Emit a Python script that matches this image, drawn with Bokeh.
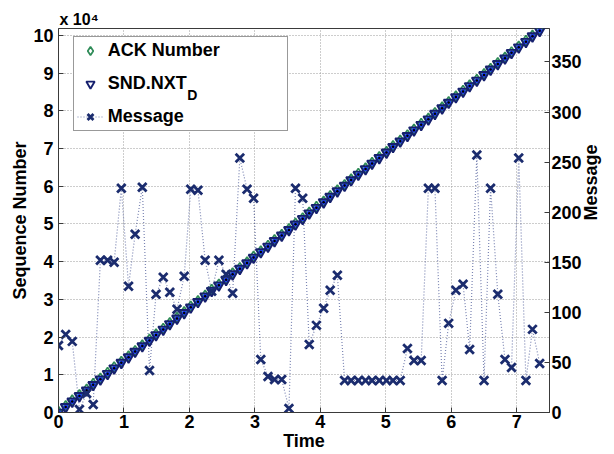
import math
from bokeh.plotting import figure
from bokeh.models import Range1d, LinearAxis, FixedTicker, Legend, LegendItem
from bokeh.embed import file_html
from bokeh.resources import INLINE

# ---- data ----
time = [0.0, 0.11, 0.21, 0.32, 0.43, 0.53, 0.64, 0.75, 0.85, 0.96,
        1.07, 1.17, 1.28, 1.39, 1.49, 1.6, 1.7, 1.81, 1.92, 2.02,
        2.13, 2.24, 2.34, 2.45, 2.56, 2.66, 2.77, 2.88, 2.98, 3.09,
        3.2, 3.3, 3.41, 3.52, 3.62, 3.73, 3.83, 3.94, 4.05, 4.15,
        4.26, 4.37, 4.47, 4.58, 4.69, 4.79, 4.9, 5.01, 5.11, 5.22,
        5.33, 5.43, 5.54, 5.65, 5.75, 5.86, 5.96, 6.07, 6.18, 6.28,
        6.39, 6.5, 6.6, 6.71, 6.82, 6.92, 7.03, 7.14, 7.24, 7.35]

ack_number = [300, 1800, 3300, 4700, 6200, 7700, 9100, 10600, 12100, 13500,
              15000, 16400, 17900, 19400, 20800, 22300, 23800, 25200, 26700, 28200,
              29600, 31100, 32600, 34000, 35500, 37000, 38400, 39900, 41400, 42800,
              44300, 45800, 47200, 48700, 50200, 51600, 53100, 54600, 56000, 57500,
              59000, 60400, 61900, 63400, 64800, 66300, 67800, 69200, 70700, 72200,
              73600, 75100, 76600, 78000, 79500, 81000, 82400, 83900, 85400, 86800,
              88300, 89800, 91200, 92700, 94200, 95600, 97100, 98600, 100000, 101500]

snd_nxt = [0, 1470, 2930, 4400, 5870, 7340, 8800, 10270, 11740, 13200,
           14670, 16140, 17600, 19070, 20540, 22010, 23470, 24940, 26410, 27870,
           29340, 30810, 32270, 33740, 35210, 36680, 38140, 39610, 41080, 42540,
           44010, 45480, 46940, 48410, 49880, 51350, 52810, 54280, 55750, 57210,
           58680, 60150, 61610, 63080, 64550, 66020, 67480, 68950, 70420, 71880,
           73350, 74820, 76280, 77750, 79220, 80690, 82150, 83620, 85090, 86550,
           88020, 89490, 90950, 92420, 93890, 95360, 96820, 98290, 99760, 101220]

message = [67, 78, 71, 3, 19, 8, 152, 152, 150, 224,
           126, 178, 225, 42, 118, 135, 120, 103, 136, 223,
           222, 152, 121, 152, 138, 119, 254, 223, 214, 53,
           36, 33, 33, 4, 224, 214, 68, 87, 104, 122,
           137, 32, 32, 32, 32, 32, 32, 32, 32, 32,
           64, 52, 52, 224, 224, 32, 89, 122, 128, 63,
           257, 32, 224, 118, 53, 45, 254, 32, 83, 49]

x_ticks = [0, 1, 2, 3, 4, 5, 6, 7]
seq_ticks = [0, 10000, 20000, 30000, 40000, 50000, 60000, 70000, 80000, 90000, 100000]
seq_tick_labels = ["0", "1", "2", "3", "4", "5", "6", "7", "8", "9", "10"]
msg_ticks = [0, 50, 100, 150, 200, 250, 300, 350]

FONT = "Liberation Sans"
AX = "#3a3a3a"

p = figure(width=614, height=454, output_backend="svg", toolbar_location=None,
           x_range=Range1d(0, 7.5), y_range=Range1d(0, 101800),
           min_border_left=58, min_border_right=65, min_border_top=28, min_border_bottom=42)
p.extra_y_ranges = {"msg": Range1d(0, 383.4)}
p.background_fill_color = "white"
p.border_fill_color = "white"
p.outline_line_color = AX
p.outline_line_width = 1

p.title.text = "x 10\u2074"
p.title.align = "left"
p.title.offset = 1
p.title.standoff = 2
p.title.vertical_align = "bottom"
p.title.text_font = FONT
p.title.text_font_style = "bold"
p.title.text_font_size = "16px"
p.title.text_color = "black"

def style_axis(ax):
    ax.axis_line_color = AX
    ax.major_tick_line_color = AX
    ax.major_tick_in = 5
    ax.major_tick_out = 0
    ax.minor_tick_line_color = None
    ax.major_label_text_font = FONT
    ax.major_label_text_font_style = "bold"
    ax.major_label_text_font_size = "18px"
    ax.major_label_text_color = "black"
    ax.axis_label_text_font = FONT
    ax.axis_label_text_font_style = "bold"
    ax.axis_label_text_font_size = "18px"
    ax.axis_label_text_color = "black"

xa = p.xaxis[0]
xa.ticker = FixedTicker(ticks=x_ticks)
style_axis(xa)
xa.major_label_standoff = 2
xa.axis_label = "Time"
xa.axis_label_standoff = 0

ya = p.yaxis[0]
ya.ticker = FixedTicker(ticks=seq_ticks)
ya.major_label_overrides = {t: s for t, s in zip(seq_ticks, seq_tick_labels)}
style_axis(ya)
ya.major_label_standoff = 5
ya.axis_label = "Sequence Number"
ya.axis_label_standoff = 0

ra = LinearAxis(y_range_name="msg", ticker=FixedTicker(ticks=msg_ticks))
style_axis(ra)
ra.major_label_standoff = 2
ra.axis_label = "Message"
ra.axis_label_standoff = 6
try:
    ra.axis_label_orientation = math.pi / 2
except Exception:
    pass
p.add_layout(ra, "right")

for g in (p.xgrid[0], p.ygrid[0]):
    g.grid_line_color = "#9a9a9a"
    g.grid_line_dash = "1 2"
    g.grid_line_width = 1
p.xgrid[0].ticker = FixedTicker(ticks=x_ticks)
p.ygrid[0].ticker = FixedTicker(ticks=seq_ticks)

# ---- glyphs ----
msg_line = p.line(time, message, y_range_name="msg", line_color="#34448a",
                  line_dash="1 2", line_width=1.2, line_alpha=0.65)
p.line(time, snd_nxt, line_color="#1030ff", line_width=2)
ack = p.scatter(time, ack_number, marker="diamond", size=10, line_color="#2e8b57",
                fill_color=None, line_width=1.7)
p.scatter(time, snd_nxt, marker="circle", size=5, fill_color="#1f3ff0", line_color=None)
snd = p.scatter(time, snd_nxt, marker="inverted_triangle", size=10, line_color="#16206e",
                fill_color=None, line_width=1.9)
p.scatter(time, snd_nxt, marker="circle", size=2.5, fill_color="black", line_color=None)
msg = p.scatter(time, message, y_range_name="msg", marker="x", size=12,
                line_color="#1b2c6e", line_width=2.8)
# empty, invisible renderer that only carries the subscript text of the legend
sub_holder = p.scatter(x=[], y=[], marker="circle", size=1, fill_alpha=0, line_alpha=0)

legend = Legend(items=[LegendItem(label="ACK Number", renderers=[ack]),
                       LegendItem(label="SND.NXT", renderers=[snd]),
                       LegendItem(label="Message", renderers=[msg_line, msg])],
                location=(14.7, 281))
legend.label_text_font = FONT
legend.label_text_font_style = "bold"
legend.label_text_font_size = "18px"
legend.label_text_color = "black"
legend.glyph_width = 26
legend.glyph_height = 21
legend.label_height = 21
legend.spacing = 12
legend.padding = 3
legend.margin = 0
legend.label_standoff = 5
legend.label_width = 176
legend.border_line_color = "#333333"
legend.border_line_width = 1
legend.background_fill_color = "white"
legend.background_fill_alpha = 1
p.add_layout(legend)

sub = Legend(items=[LegendItem(label="D", renderers=[sub_holder])],
             location=(128.3, 308.9))
sub.label_text_font = FONT
sub.label_text_font_style = "bold"
sub.label_text_font_size = "14px"
sub.label_text_color = "black"
sub.glyph_width = 1
sub.glyph_height = 14
sub.label_height = 14
sub.label_width = 10
sub.label_standoff = 0
sub.padding = 0
sub.spacing = 0
sub.margin = 0
sub.border_line_color = None
sub.background_fill_alpha = 0
p.add_layout(sub)

open("out.html", "w").write(file_html(p, INLINE))
